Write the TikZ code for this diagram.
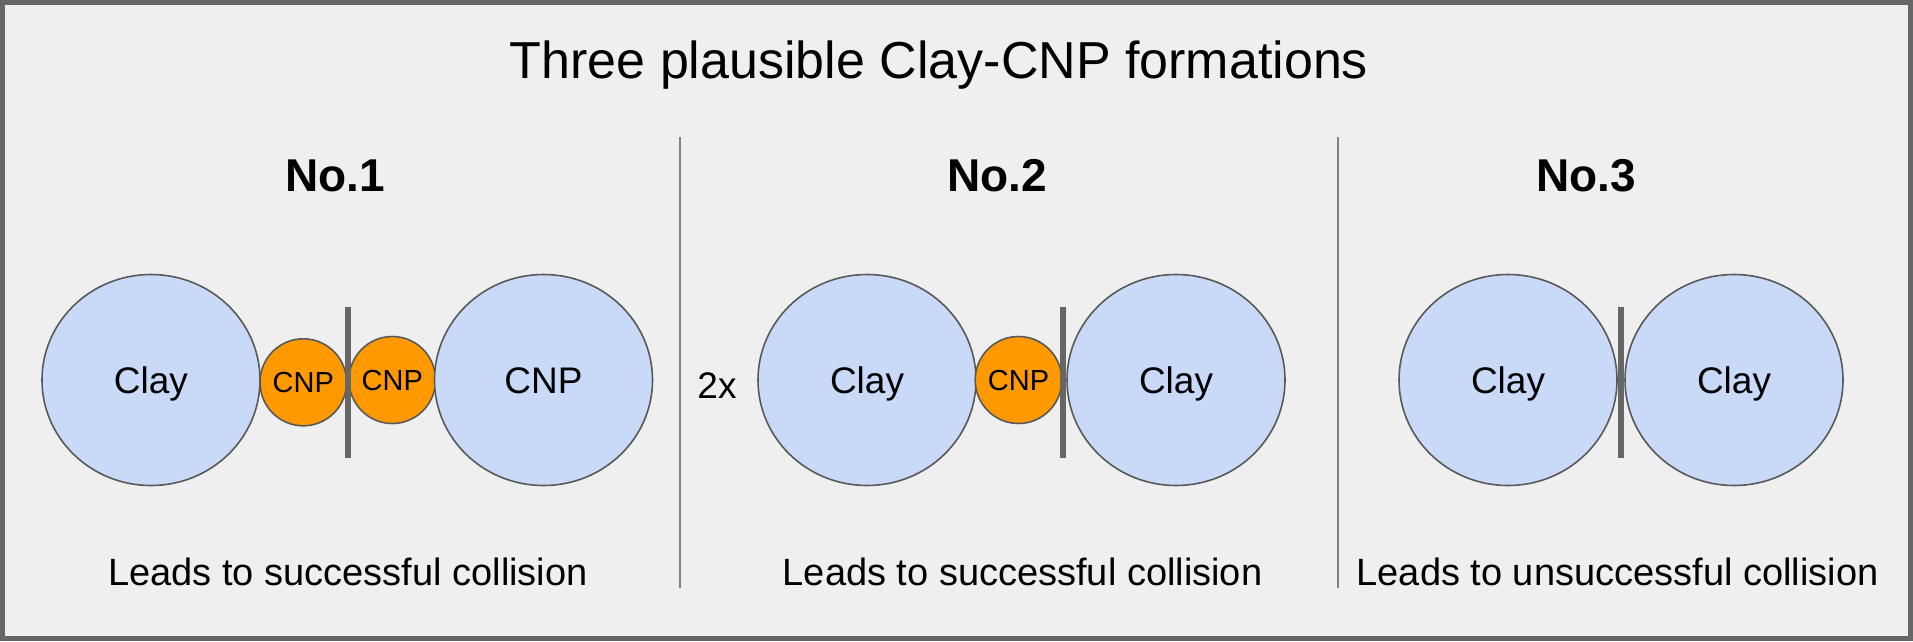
\documentclass[tikz,border=0pt]{standalone}
\usepackage{fontspec}
\setmainfont{Liberation Sans}
\usetikzlibrary{shapes.geometric}
\definecolor{bgcol}{HTML}{EFEFEF}
\definecolor{claycol}{HTML}{C9DAF8}
\definecolor{cnpcol}{HTML}{FF9900}
\definecolor{edgecol}{HTML}{595959}
\definecolor{framecol}{HTML}{666666}
\begin{document}
\begin{tikzpicture}[x=1pt,y=-1pt,
	clay/.style={ellipse,draw=edgecol,line width=1.6pt,fill=claycol,inner sep=0pt,
		minimum width=218pt,minimum height=211pt,font=\fontsize{37}{40}\selectfont,
		text height=26.5pt,text depth=0pt},
	cnp/.style={ellipse,draw=edgecol,line width=1.6pt,fill=cnpcol,inner sep=0pt,
		minimum width=83pt,minimum height=87pt,font=\fontsize{29}{32}\selectfont,
		text height=20.8pt,text depth=0pt},
	wall/.style={draw=framecol,line width=5.5pt},
	divider/.style={draw=black!50,line width=2pt},
	heading/.style={anchor=base,font=\fontsize{46}{50}\selectfont\bfseries},
	outcome/.style={anchor=base,font=\fontsize{38}{42}\selectfont}]
		%%%%% FRAME %%%%%
		\draw[fill=bgcol,draw=framecol,line width=5pt] (2.5, 2.5) rectangle (1910.5, 638.5);
		\node[anchor=base,font=\fontsize{52}{56}\selectfont] (title) at (939, 78) {Three plausible Clay-CNP formations};
		
		\draw[divider] (680, 137) -- (680, 588);
		\draw[divider] (1337.5, 137) -- (1337.5, 588);
		
		%%%%% No.1 %%%%%
		\node[heading] (head1) at (335, 191) {No.1};
		\node[clay] (clayA) at (151, 380) {Clay};
		\node[cnp] (cnpA) at (303.3, 382.3) {CNP};
		\node[cnp] (cnpB) at (392.3, 380) {CNP};
		\node[clay] (cnpbig) at (543.5, 380) {CNP};
		\draw[wall] (348, 307) -- (348, 458);
		\node[outcome] (out1) at (348, 585) {Leads to successful collision};
		
		%%%%% No.2 %%%%%
		\node[heading] (head2) at (997, 191) {No.2};
		\node[anchor=base,font=\fontsize{37}{40}\selectfont] (twice) at (717, 398.5) {2x};
		\node[clay] (clayB) at (867, 380) {Clay};
		\node[cnp] (cnpC) at (1018.5, 380) {CNP};
		\node[clay] (clayC) at (1176, 380) {Clay};
		\draw[wall] (1063, 307) -- (1063, 458);
		\node[outcome] (out2) at (1022.5, 585) {Leads to successful collision};
		
		%%%%% No.3 %%%%%
		\node[heading] (head3) at (1586, 191) {No.3};
		\node[clay] (clayD) at (1508, 380) {Clay};
		\node[clay] (clayE) at (1734, 380) {Clay};
		\draw[wall] (1621, 307) -- (1621, 458);
		\node[outcome] (out3) at (1617.5, 585) {Leads to unsuccessful collision};
		%%%%% END %%%%%
	\end{tikzpicture}
\end{document}
